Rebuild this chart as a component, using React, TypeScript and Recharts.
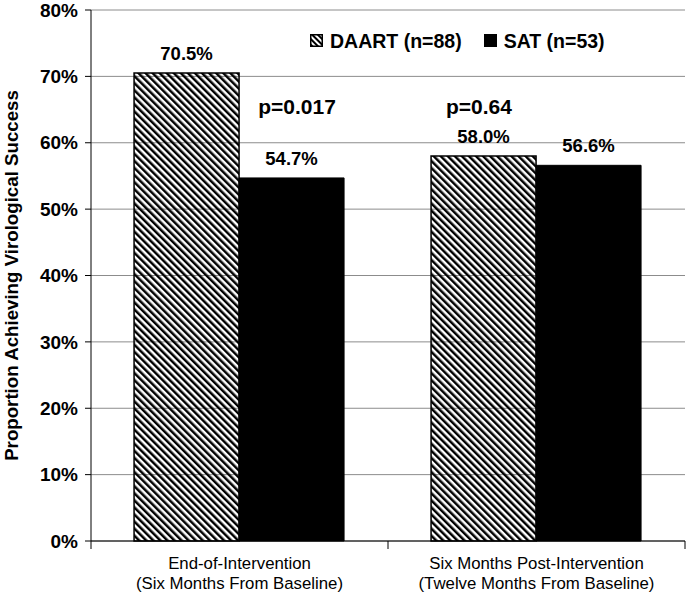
import { BarChart, Bar, XAxis, YAxis, CartesianGrid, LabelList, ReferenceDot } from "recharts";

const categories = ["End-of-Intervention", "Six Months Post-Intervention"];
const subLabels = ["(Six Months From Baseline)", "(Twelve Months From Baseline)"];
const daart = [70.5, 58.0];
const sat = [54.7, 56.6];
const pValues = ["p=0.017", "p=0.64"];
const yTicks = [0, 10, 20, 30, 40, 50, 60, 70, 80];
const seriesNames = ["DAART (n=88)", "SAT (n=53)"];

const data = categories.map((c, i) => ({ name: c, sub: subLabels[i], daart: daart[i], sat: sat[i] }));

const W = 686;
const H = 593;
const X_AXIS_H = 52;
const M = { top: 10, right: 1, bottom: 0, left: 0 };
const Y_AXIS_W = 91;
const AXIS_Y = H - X_AXIS_H;
const BAND = (W - Y_AXIS_W - M.right) / categories.length;
const FONT = "'Liberation Sans', Arial, sans-serif";

function CategoryTick(props: any) {
  const { x, payload, index } = props;
  const sub = data[index]?.sub;
  const left = x - BAND / 2;
  return (
    <g>
      <line x1={left} x2={left} y1={AXIS_Y} y2={AXIS_Y + 8} stroke="#000" />
      {index === categories.length - 1 && (
        <line x1={x + BAND / 2} x2={x + BAND / 2} y1={AXIS_Y} y2={AXIS_Y + 8} stroke="#000" />
      )}
      <text x={x} y={AXIS_Y + 28} textAnchor="middle" fontSize={16.8} fontFamily={FONT} fill="#000">
        {payload.value}
      </text>
      <text x={x} y={AXIS_Y + 48} textAnchor="middle" fontSize={16.8} fontFamily={FONT} fill="#000">
        {sub}
      </text>
    </g>
  );
}

function PLabel(dx: number, text: string) {
  return (props: any) => {
    const { viewBox } = props;
    return (
      <text x={viewBox.x + dx} y={viewBox.y + 7} textAnchor="middle" fontSize={21} fontWeight="bold" fontFamily={FONT} fill="#000">
        {text}
      </text>
    );
  };
}

function ChartLegend() {
  return (
    <div
      style={{
        position: "absolute",
        top: 29,
        left: 310,
        display: "flex",
        alignItems: "center",
        fontFamily: FONT,
        fontWeight: "bold",
        fontSize: 19.5,
        lineHeight: "24px",
        color: "#000",
      }}
    >
      <svg width={13} height={13} style={{ marginRight: 7, position: "relative", top: -1 }}>
        <defs>
          <pattern id="hatchLegend" width={4} height={4} patternUnits="userSpaceOnUse" patternTransform="rotate(-45)">
            <rect x={0} y={0} width={2} height={4} fill="#000" />
          </pattern>
        </defs>
        <rect x={0.75} y={0.75} width={11.5} height={11.5} fill="url(#hatchLegend)" stroke="#000" strokeWidth={1.5} />
      </svg>
      <span>{seriesNames[0]}</span>
      <svg width={13} height={13} style={{ marginLeft: 22, marginRight: 7, position: "relative", top: -1 }}>
        <rect x={0} y={0} width={13} height={13} fill="#000" />
      </svg>
      <span>{seriesNames[1]}</span>
    </div>
  );
}

const valueLabelStyle = { fontSize: 18.5, fontWeight: "bold", fontFamily: FONT, fill: "#000" };

export default function App() {
  return (
    <div style={{ position: "absolute", left: 0, top: 0, width: W, height: H, background: "#fff" }}>
      <BarChart width={W} height={H} data={data} margin={M} barCategoryGap="14.5%" barGap={0}>
        <defs>
          <pattern id="hatch" width={5} height={5} patternUnits="userSpaceOnUse" patternTransform="rotate(-45)">
            <rect x={0} y={0} width={2.5} height={5} fill="#000" />
          </pattern>
        </defs>
        <CartesianGrid vertical={false} stroke="#8c8c8c" />
        <XAxis
          dataKey="name"
          stroke="#000"
          tickLine={false}
          tick={<CategoryTick />}
          interval={0}
          height={X_AXIS_H}
        />
        <YAxis
          width={Y_AXIS_W}
          domain={[0, 80]}
          ticks={yTicks}
          interval={0}
          stroke="#000"
          tickSize={6}
          tickMargin={7}
          tickFormatter={(v) => `${v}%`}
          tick={{ fontSize: 19, fontWeight: "bold", fontFamily: FONT, fill: "#000" }}
          label={{
            value: "Proportion Achieving Virological Success",
            angle: -90,
            position: "insideLeft",
            dx: 6,
            dy: 0,
            style: { textAnchor: "middle", fontSize: 18.7, fontWeight: "bold", fontFamily: FONT, fill: "#000" },
          }}
        />
        <Bar dataKey="daart" name={seriesNames[0]} fill="url(#hatch)" stroke="#000" strokeWidth={1.5} isAnimationActive={false}>
          <LabelList dataKey="daart" position="top" offset={13} formatter={(v: any) => `${Number(v).toFixed(1)}%`} style={valueLabelStyle} />
        </Bar>
        <Bar dataKey="sat" name={seriesNames[1]} fill="#000" stroke="#000" strokeWidth={1} isAnimationActive={false}>
          <LabelList dataKey="sat" position="top" offset={13} formatter={(v: any) => `${Number(v).toFixed(1)}%`} style={valueLabelStyle} />
        </Bar>
        <ReferenceDot x={categories[0]} y={65.4} r={0} stroke="none" label={PLabel(57.5, pValues[0])} />
        <ReferenceDot x={categories[1]} y={65.4} r={0} stroke="none" label={PLabel(-57.5, pValues[1])} />
      </BarChart>
      <ChartLegend />
    </div>
  );
}
